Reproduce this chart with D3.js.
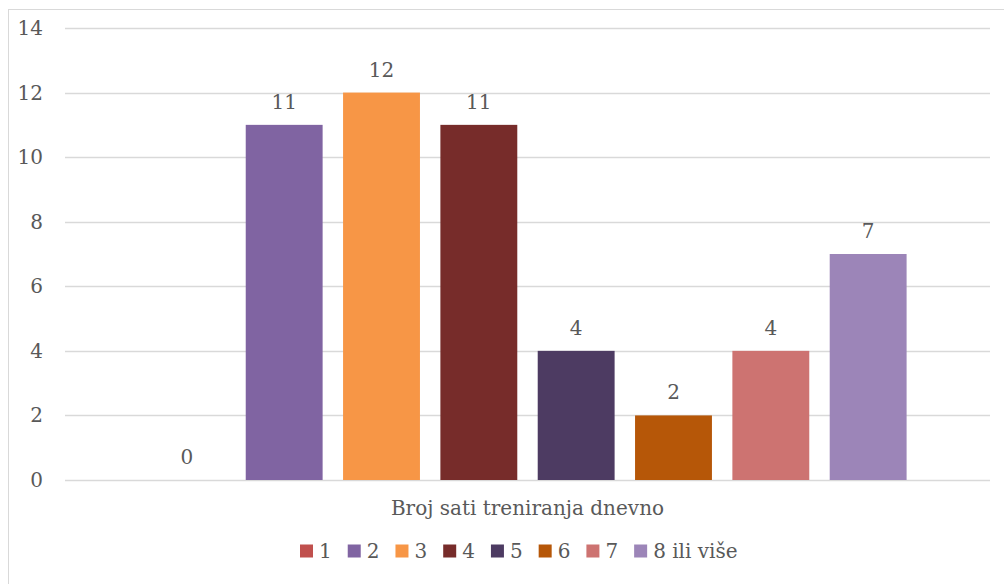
<!DOCTYPE html>
<html>
<head>
<meta charset="utf-8">
<script src="https://cdnjs.cloudflare.com/ajax/libs/d3/7.8.5/d3.min.js"></script>
<style>
  body { margin: 0; background: #fff; }
  #chart { width: 1004px; height: 584px; }
  text { font-family: "DejaVu Serif", "Liberation Serif", serif; fill: #595959; }
</style>
</head>
<body>
<div id="chart"></div>
<script>
// data
var series = ["1", "2", "3", "4", "5", "6", "7", "8 ili više"];
var values = [0, 11, 12, 11, 4, 2, 4, 7];
var colors = ["#C0504D", "#8064A2", "#F79646", "#772C2A", "#4D3B62", "#B65708", "#CD7371", "#9C85B8"];
var category = "Broj sati treniranja dnevno";
var yTicks = [0, 2, 4, 6, 8, 10, 12, 14];

var W = 1004, H = 584;
var margin = {top: 28, right: 14, bottom: 104, left: 65},
    width = W - margin.left - margin.right,
    height = H - margin.top - margin.bottom;

var fs = "20px";

var svg = d3.select("#chart").append("svg")
    .attr("width", W)
    .attr("height", H);

// outer chart frame (runs past the right/bottom edge)
svg.append("rect")
    .attr("x", 8.5).attr("y", 9.5)
    .attr("width", 1010).attr("height", 600)
    .attr("fill", "none")
    .attr("stroke", "#d9d9d9");

var g = svg.append("g")
    .attr("transform", "translate(" + margin.left + "," + margin.top + ")");

var y = d3.scaleLinear().domain([0, 14]).range([height, 0]);

// single category, series bars inside it
var x0 = d3.scaleBand().domain([category]).range([0, width]).paddingInner(0).paddingOuter(0.11);
var x1 = d3.scaleBand().domain(series).range([0, x0.bandwidth()]).paddingInner(0.21).paddingOuter(0);

// gridlines
g.selectAll(".grid").data(yTicks).enter().append("line")
    .attr("x1", 0).attr("x2", width)
    .attr("y1", function(d) { return Math.round(y(d)) + 0.5; })
    .attr("y2", function(d) { return Math.round(y(d)) + 0.5; })
    .attr("stroke", "#d9d9d9")
    .attr("stroke-width", 1.5);

// y labels
g.selectAll(".ylab").data(yTicks).enter().append("text")
    .attr("x", -22)
    .attr("y", function(d) { return y(d); })
    .attr("dy", "0.35em")
    .attr("text-anchor", "end")
    .style("font-size", fs)
    .text(function(d) { return d; });

var bx = function(i) { return x0(category) + x1(series[i]); };

g.selectAll(".bar").data(values).enter().append("rect")
    .attr("x", function(d, i) { return bx(i); })
    .attr("y", function(d) { return y(d); })
    .attr("width", x1.bandwidth())
    .attr("height", function(d) { return height - y(d); })
    .attr("fill", function(d, i) { return colors[i]; });

g.selectAll(".val").data(values).enter().append("text")
    .attr("x", function(d, i) { return bx(i) + x1.bandwidth() / 2; })
    .attr("y", function(d) { return y(d) - 16; })
    .attr("text-anchor", "middle")
    .style("font-size", fs)
    .text(function(d) { return d; });

// category label
g.append("text")
    .attr("x", x0(category) + x0.bandwidth() / 2)
    .attr("y", height + 35)
    .attr("text-anchor", "middle")
    .style("font-size", fs)
    .text(category);

// legend
var legend = svg.append("g").attr("transform", "translate(0," + (H - 33) + ")");
var lx = 300;
series.forEach(function(s, i) {
  var item = legend.append("g").attr("transform", "translate(" + lx + ",0)");
  item.append("rect").attr("x", 0).attr("y", -6.5).attr("width", 13).attr("height", 13).attr("fill", colors[i]);
  var t = item.append("text").attr("x", 19).attr("y", 0).attr("dy", "0.35em")
      .style("font-size", fs).text(s);
  lx += 19 + t.node().getComputedTextLength() + 16;
});
</script>
</body>
</html>
